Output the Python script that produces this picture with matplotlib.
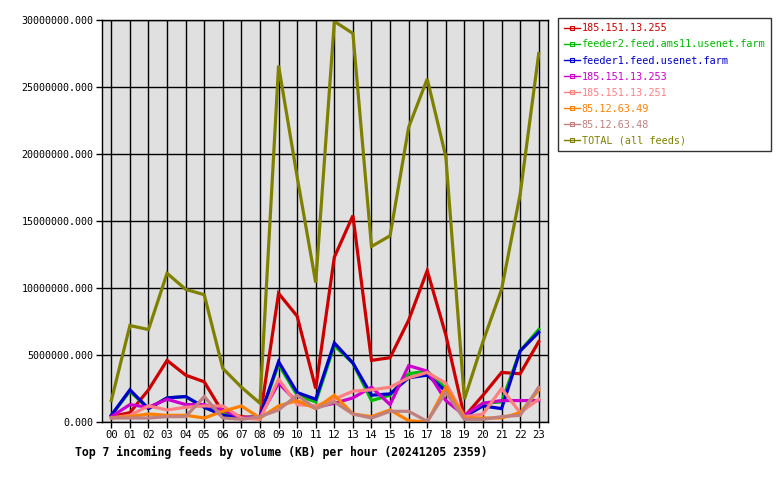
import numpy as np
import matplotlib
matplotlib.use('Agg')
import matplotlib.pyplot as plt
from matplotlib.lines import Line2D
from matplotlib.ticker import MultipleLocator, FuncFormatter

# horas do dia
horas = ['%02d' % h for h in range(24)]

# valores em milhoes de KB
f_255 = [0.4, 0.7, 2.4, 4.6, 3.5, 3.0, 0.7, 0.4, 0.3, 9.6, 7.9, 2.5,
         12.3, 15.4, 4.6, 4.8, 7.6, 11.3, 6.5, 0.4, 2.0, 3.7, 3.6, 6.0]
f_ams11 = [0.5, 2.3, 1.0, 1.8, 1.9, 1.1, 0.6, 0.3, 0.4, 4.3, 2.0, 1.5,
           5.7, 4.4, 1.6, 2.0, 3.6, 3.8, 2.5, 0.4, 1.4, 1.5, 5.3, 6.9]
f_feeder1 = [0.5, 2.4, 1.0, 1.8, 1.9, 1.1, 0.5, 0.3, 0.4, 4.5, 2.2, 1.7,
             5.9, 4.4, 2.0, 2.1, 3.3, 3.5, 2.3, 0.4, 1.2, 1.0, 5.3, 6.7]
f_253 = [0.4, 1.3, 1.1, 1.7, 1.3, 1.3, 0.9, 0.3, 0.4, 2.9, 1.5, 1.1,
         1.4, 1.8, 2.6, 1.3, 4.2, 3.8, 1.6, 0.5, 1.4, 1.6, 1.6, 1.6]
f_251 = [0.3, 0.5, 1.2, 0.9, 1.1, 1.2, 1.2, 0.3, 0.2, 3.2, 1.3, 1.2,
         1.7, 2.3, 2.4, 2.6, 3.3, 3.7, 2.9, 0.4, 0.6, 2.5, 0.7, 1.7]
f_49 = [0.3, 0.4, 0.6, 0.5, 0.5, 0.3, 0.8, 1.2, 0.3, 1.2, 1.6, 1.0,
        2.0, 0.6, 0.4, 0.9, 0.1, 0.0, 2.6, 0.3, 0.3, 0.3, 0.7, 2.4]
f_48 = [0.3, 0.3, 0.3, 0.4, 0.4, 1.9, 0.3, 0.2, 0.4, 0.9, 2.0, 1.0,
        1.5, 0.6, 0.3, 0.8, 0.8, 0.05, 2.2, 0.2, 0.2, 0.4, 0.5, 2.6]
total = [1.6, 7.2, 6.9, 11.1, 9.9, 9.5, 4.0, 2.6, 1.4, 26.6, 18.3, 10.4,
         29.9, 29.0, 13.1, 13.9, 22.0, 25.6, 19.8, 1.7, 6.0, 9.9, 17.0, 27.5]

series = [
    ('185.151.13.255', f_255, '#cc0000'),
    ('feeder2.feed.ams11.usenet.farm', f_ams11, '#00bb00'),
    ('feeder1.feed.usenet.farm', f_feeder1, '#0000cc'),
    ('185.151.13.253', f_253, '#cc00cc'),
    ('185.151.13.251', f_251, '#ff8080'),
    ('85.12.63.49', f_49, '#ff8000'),
    ('85.12.63.48', f_48, '#c08080'),
    ('TOTAL (all feeds)', total, '#808000'),
]

mono = 'DejaVu Sans Mono'

fig = plt.figure(figsize=(7.8, 4.8), dpi=100)
ax = fig.add_axes([0.1308, 0.1208, 0.5718, 0.8375])
ax.set_facecolor('#e0e0e0')

x = np.arange(24)
handles = []
for nome, vals, cor in series:
    ax.plot(x, np.array(vals) * 1e6, color=cor, lw=2.3, solid_joinstyle='miter')
    handles.append(Line2D([], [], color=cor, lw=1, marker='s', markersize=3,
                          markerfacecolor='none', markeredgewidth=0.8, label=nome))

ax.set_xlim(-0.5, 23.5)
ax.set_ylim(0, 30e6)
ax.set_xticks(x)
ax.set_xticklabels(horas, family=mono, fontsize=7.6)
ax.yaxis.set_major_locator(MultipleLocator(5e6))
ax.yaxis.set_major_formatter(FuncFormatter(lambda v, p: '%.3f' % v))
for lab in ax.get_yticklabels():
    lab.set_family(mono)
    lab.set_fontsize(7.2)
ax.grid(True, color='black', lw=1)
ax.set_axisbelow(True)
ax.tick_params(length=4, width=1, color='black', pad=2)
for s in ax.spines.values():
    s.set_linewidth(1)

leg = fig.legend(handles=handles, loc='upper left', bbox_to_anchor=(0.716, 0.963),
                 prop={'family': mono, 'size': 7.3}, frameon=True, numpoints=1,
                 fancybox=False, edgecolor='black', handlelength=1.6,
                 handletextpad=0.15, borderpad=0.55, labelspacing=0.6,
                 borderaxespad=0)
leg.get_frame().set_linewidth(1)
for h, txt in zip(handles, leg.get_texts()):
    txt.set_color(h.get_color())

fig.text(0.096, 0.05, 'Top 7 incoming feeds by volume (KB) per hour (20241205 2359)',
         family=mono, fontsize=8.3, fontweight='bold')

plt.savefig('out.png', dpi=100)
plt.close()
